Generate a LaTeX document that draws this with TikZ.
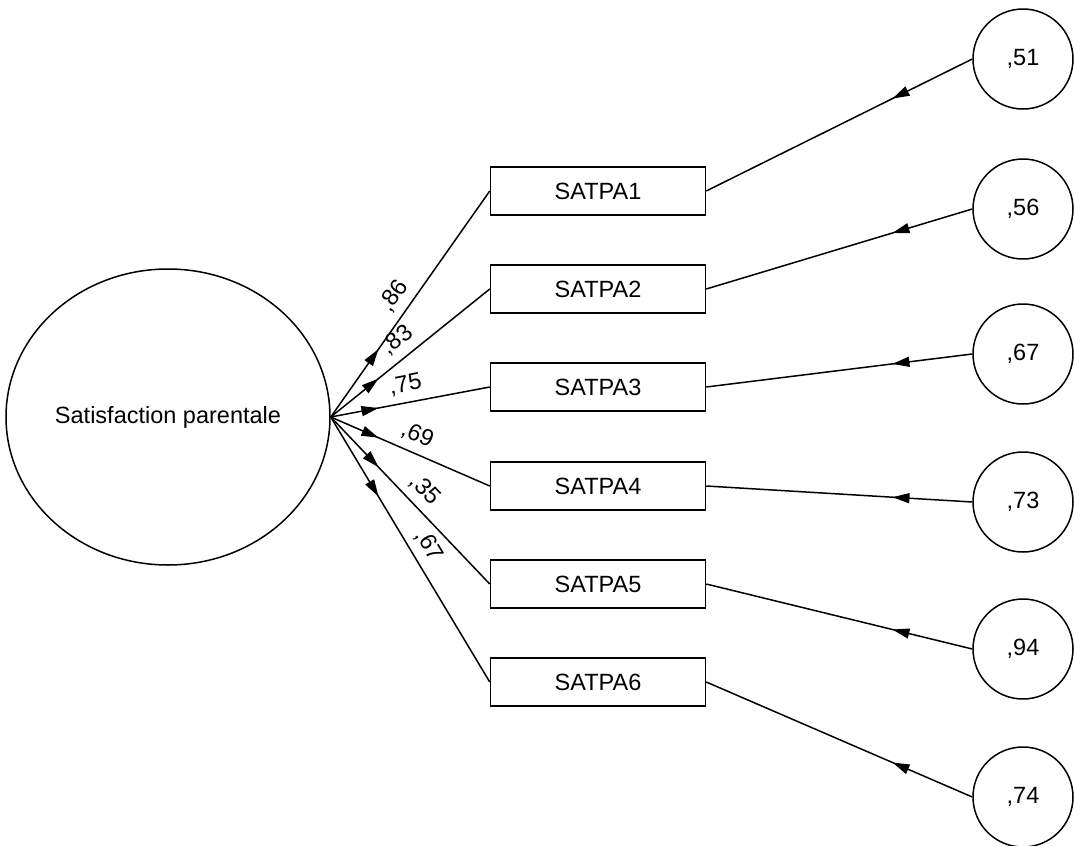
\documentclass[tikz,border=0pt]{standalone}
\usepackage{fontspec}
\setmainfont{Liberation Sans}
\usetikzlibrary{shapes.geometric,arrows.meta,decorations.markings}

\begin{document}
\begin{tikzpicture}[x=1pt,y=-1pt,line width=1.5pt,
		font=\fontsize{23.5}{27}\selectfont,
		latent/.style={draw,ellipse,minimum width=324pt,minimum height=296pt,inner sep=0pt},
		item/.style={draw,rectangle,minimum width=215pt,minimum height=48pt,inner sep=0pt},
		err/.style={draw,circle,minimum size=100pt,inner sep=0pt},
		midarrow/.style={postaction={decorate},decoration={markings,
			mark=at position #1 with {\arrow{Triangle[length=17pt,width=10pt]}}}},
		coef/.style={sloped,above=7pt,inner sep=0.5pt}]
			\useasboundingbox (0,0) rectangle (1074,846);

			% latent variable
			\node[latent] (sp) at (168,417) {Satisfaction parentale};

			% indicators
			\node[item] (s1) at (598,191) {SATPA1};
			\node[item] (s2) at (598,289) {SATPA2};
			\node[item] (s3) at (598,387) {SATPA3};
			\node[item] (s4) at (598,486) {SATPA4};
			\node[item] (s5) at (598,584) {SATPA5};
			\node[item] (s6) at (598,682) {SATPA6};

			% error terms
			\node[err] (e1) at (1023,59) {,51};
			\node[err] (e2) at (1023,209) {,56};
			\node[err] (e3) at (1023,354) {,67};
			\node[err] (e4) at (1023,502) {,73};
			\node[err] (e5) at (1023,649) {,94};
			\node[err] (e6) at (1023,797) {,74};

			% loadings
			\draw[midarrow=0.3] (sp.east) -- node[coef,pos=0.49] {,86} (s1.west);
			\draw[midarrow=0.3] (sp.east) -- node[coef,pos=0.49] {,83} (s2.west);
			\draw[midarrow=0.3] (sp.east) -- node[coef,pos=0.49] {,75} (s3.west);
			\draw[midarrow=0.3] (sp.east) -- node[coef,pos=0.5] {,69} (s4.west);
			\draw[midarrow=0.3] (sp.east) -- node[coef,pos=0.51] {,35} (s5.west);
			\draw[midarrow=0.3] (sp.east) -- node[coef,pos=0.52] {,67} (s6.west);

			% errors to indicators
			\draw[midarrow=0.3] (e1.west) -- (s1.east);
			\draw[midarrow=0.3] (e2.west) -- (s2.east);
			\draw[midarrow=0.3] (e3.west) -- (s3.east);
			\draw[midarrow=0.3] (e4.west) -- (s4.east);
			\draw[midarrow=0.3] (e5.west) -- (s5.east);
			\draw[midarrow=0.3] (e6.west) -- (s6.east);
\end{tikzpicture}
\end{document}
